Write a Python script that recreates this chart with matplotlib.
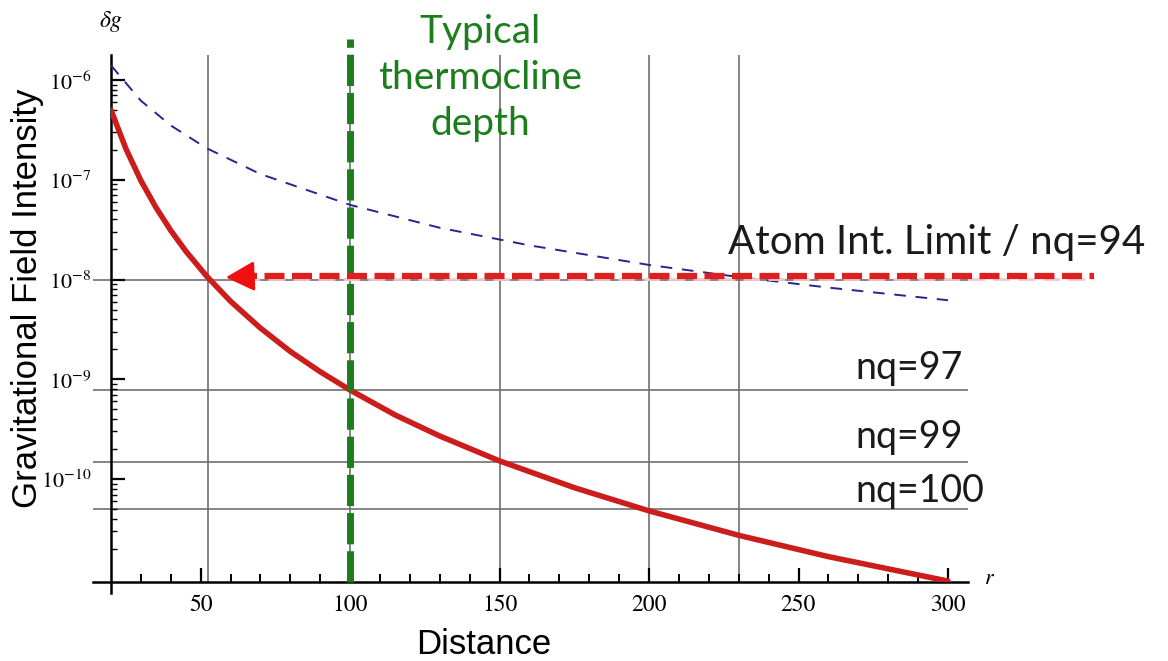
import numpy as np
import matplotlib
matplotlib.use("Agg")
import matplotlib.pyplot as plt
from matplotlib.ticker import LogLocator, FixedLocator, NullFormatter

plt.rcParams['mathtext.fontset'] = 'stix'

# red curve (distance r, delta g)
red_r = [20, 25, 30, 35, 40, 45, 52, 60, 70, 80, 90, 100, 115, 130, 150,
         175, 200, 230, 260, 300]
red_g = [5.0e-7, 2.04e-7, 9.8e-8, 5.3e-8, 3.1e-8, 1.93e-8, 1.08e-8, 6.05e-9,
         3.26e-9, 1.9e-9, 1.19e-9, 7.8e-10, 4.4e-10, 2.7e-10, 1.52e-10,
         8.2e-11, 4.8e-11, 2.73e-11, 1.67e-11, 9.5e-12]

# blue dashed curve
blue_r = [20, 30, 40, 52, 70, 100, 130, 160, 200, 230, 260, 300]
blue_g = [1.4e-6, 6.2e-7, 3.5e-7, 2.07e-7, 1.14e-7, 5.6e-8, 3.3e-8, 2.2e-8,
          1.4e-8, 1.06e-8, 8.3e-9, 6.2e-9]

# limit lines
limit_levels = [1.0e-8, 7.9e-10, 1.5e-10, 5.0e-11]
nq_labels = ["nq=97", "nq=99", "nq=100"]
nq_text_y = [1.0e-9, 2.05e-10, 5.9e-11]
grid_r = [52.6, 100, 150, 200, 230]

atom_limit = 1.08e-8
thermocline_r = 100

x_ticks = [50, 100, 150, 200, 250, 300]
y_ticks = [1e-6, 1e-7, 1e-8, 1e-9, 1e-10]
y_ticklabels = [r"$10^{-6}$", r"$10^{-7}$", r"$10^{-8}$", r"$10^{-9}$", r"$10^{-10}$"]

RED = '#cc1d1d'
GREEN = '#1b7d1b'
BLUE = '#25258f'
GRID = '#707070'

fig = plt.figure(figsize=(11.68, 6.61), dpi=100)
ax = fig.add_axes([111/1168, 1 - 582/661, 857/1168, 527/661])

xmin, xmax = 20, 306.7
ymin, ymax = 9.3e-12, 1.78e-6
ax.set_xlim(xmin, xmax)
ax.set_yscale('log')
ax.set_ylim(ymin, ymax)

# grid lines
for r in grid_r:
    ax.axvline(r, color=GRID, lw=1.2, zorder=1)
ax.hlines(limit_levels, 14, xmax, color=GRID, lw=1.2, zorder=1, clip_on=False)

# curves
ax.plot(blue_r, blue_g, color=BLUE, lw=1.4, dashes=(6, 5), zorder=3)
ax.plot(red_r, red_g, color=RED, lw=4, zorder=4, solid_capstyle='round')

# thermocline line
ax.plot([thermocline_r, thermocline_r], [ymin, 2.6e-6], color=GREEN, lw=5,
        dashes=(4.5, 1.0), clip_on=False, zorder=5)

# atom interferometer limit arrow
ax.plot([64, 349], [atom_limit * 0.93, atom_limit * 0.93], color='#f3c9c9', lw=2,
        dashes=(6, 3), clip_on=False, zorder=4)
ax.plot([62, 349], [atom_limit, atom_limit], color='#dd1f1f', lw=4.5,
        dashes=(3.2, 1.2), clip_on=False, zorder=6)
ax.annotate('', xy=(57.5, atom_limit * 0.97), xytext=(64, atom_limit * 0.99),
            arrowprops=dict(arrowstyle='-|>,head_length=0.8,head_width=0.42',
                            color='#ee1010', lw=2, mutation_scale=22),
            zorder=7)

# axes styling
for s in ['top', 'right']:
    ax.spines[s].set_visible(False)
ax.spines['left'].set_bounds(7.2e-12, ymax)
ax.spines['bottom'].set_bounds(14, xmax)
ax.spines['left'].set_linewidth(1.8)
ax.spines['bottom'].set_linewidth(1.8)

ax.xaxis.set_major_locator(FixedLocator(x_ticks))
ax.xaxis.set_minor_locator(FixedLocator(np.arange(30, 301, 10)))
ax.set_xticklabels([str(v) for v in x_ticks], family='STIXGeneral', fontsize=17)
ax.tick_params(axis='x', which='major', direction='in', length=10, width=1.6, pad=9)
ax.tick_params(axis='x', which='minor', direction='in', length=6, width=1.4)

ax.yaxis.set_major_locator(FixedLocator(y_ticks))
ax.set_yticklabels(y_ticklabels, fontsize=16)
ax.yaxis.set_minor_locator(LogLocator(base=10, subs=np.arange(2, 10)))
ax.yaxis.set_minor_formatter(NullFormatter())
ax.tick_params(axis='y', which='major', direction='in', length=10, width=1.6, pad=14)
ax.tick_params(axis='y', which='minor', direction='in', length=4, width=1.0)

# texts
ax.text(226.5, 1.82e-8, "Atom Int. Limit / nq=94", family='Lato', fontsize=29,
        color='#1a1a1a', va='baseline', ha='left')
for lab, yv in zip(nq_labels, nq_text_y):
    ax.text(269, yv, lab, family='Lato', fontsize=27, color='#1a1a1a',
            va='baseline', ha='left')

fig.text(480/1168, 1 - 78/661, "Typical\nthermocline\ndepth", family='Lato',
         fontsize=28, color=GREEN, ha='center', va='center', linespacing=1.35)

fig.text(28/1168, 1 - 298/661, "Gravitational Field Intensity",
         family='Liberation Sans', fontsize=25, rotation=90, ha='center', va='center')
fig.text(484/1168, 1 - 645/661, "Distance", family='Liberation Sans', fontsize=25,
         ha='center', va='center')
fig.text(111/1168, 1 - 22/661, r"$\delta g$", fontsize=17, ha='center', va='center')
fig.text(990/1168, 1 - 578/661, r"$r$", fontsize=16, ha='center', va='center')

fig.savefig("out.png", dpi=100, facecolor='white')
